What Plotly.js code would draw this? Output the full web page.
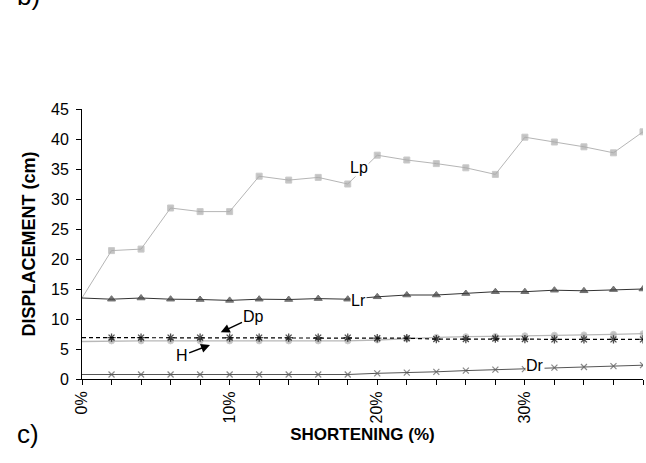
<!DOCTYPE html>
<html>
<head>
<meta charset="utf-8">
<script src="https://cdn.plot.ly/plotly-3.0.1.min.js"></script>
<style>html,body{margin:0;padding:0;background:#fff;}#chart{width:646px;height:463px;}</style>
</head>
<body>
<div id="chart"></div>
<script>
// Shortening (%) categories
const shortening = [0, 2, 4, 6, 8, 10, 12, 14, 16, 18, 20, 22, 24, 26, 28, 30, 32, 34, 36, 38];
// Tick labels shown on the x axis
const tickLabels = ['0%', '', '', '', '', '10%', '', '', '', '', '20%', '', '', '', '', '30%', '', '', '', '38%'];
// Displacement series (cm)
const Lp = [13.5, 21.4, 21.65, 28.5, 27.9, 27.9, 33.8, 33.15, 33.6, 32.5, 37.3, 36.5, 35.9, 35.2, 34.1, 40.3, 39.5, 38.7, 37.7, 41.2];
const Lr = [13.5, 13.3, 13.5, 13.3, 13.25, 13.1, 13.3, 13.25, 13.4, 13.3, 13.7, 14.0, 14.0, 14.25, 14.55, 14.55, 14.8, 14.7, 14.9, 15.0];
const Dp = [6.9, 6.9, 6.9, 6.9, 6.9, 6.9, 6.9, 6.9, 6.9, 6.9, 6.8, 6.8, 6.65, 6.65, 6.75, 6.65, 6.6, 6.6, 6.6, 6.6];
const H  = [6.25, 6.35, 6.35, 6.35, 6.35, 6.35, 6.35, 6.35, 6.35, 6.35, 6.5, 6.75, 6.95, 7.05, 7.1, 7.2, 7.3, 7.35, 7.45, 7.55];
const Dr = [0.75, 0.75, 0.75, 0.75, 0.75, 0.75, 0.75, 0.75, 0.75, 0.75, 0.95, 1.05, 1.2, 1.4, 1.55, 1.65, 1.9, 2.0, 2.15, 2.3];

const FONT = 'Liberation Sans, Arial, sans-serif';
const sizes = (s) => shortening.map((v, i) => (i === 0 ? 0 : s));

const traces = [
  {x: shortening, y: Lp, name: 'Lp', mode: 'lines+markers',
   line: {color: '#b5b5b5', width: 1},
   marker: {symbol: 'square', size: sizes(6), color: '#aaaaaa'}},
  {x: shortening, y: Lr, name: 'Lr', mode: 'lines+markers',
   line: {color: '#333333', width: 1},
   marker: {symbol: 'triangle-up', size: sizes(7), color: '#404040'}},
  {x: shortening, y: H, name: 'H', mode: 'lines+markers',
   line: {color: '#b8b8b8', width: 1.3},
   marker: {symbol: 'circle', size: sizes(6), color: '#aaaaaa'}},
  {x: shortening, y: Dp, name: 'Dp', mode: 'lines+markers',
   line: {color: '#000000', width: 1.2, dash: '4px,3px'},
   marker: {symbol: 'asterisk-open', size: sizes(7), color: '#000000', line: {color: '#000000', width: 1.3}}},
  {x: shortening, y: Dr, name: 'Dr', mode: 'lines+markers',
   line: {color: '#555555', width: 1},
   marker: {symbol: 'x-thin-open', size: sizes(6), color: '#555555', line: {color: '#555555', width: 1.2}}}
];

const annFont = {family: FONT, size: 16, color: '#000'};
const layout = {
  width: 646, height: 463,
  margin: {l: 82, r: 3, t: 109, b: 84},
  paper_bgcolor: '#fff', plot_bgcolor: '#fff',
  showlegend: false,
  font: {family: FONT, color: '#000'},
  xaxis: {
    range: [0, 38], showgrid: false, zeroline: false,
    showline: true, linecolor: '#000', linewidth: 1,
    ticks: 'outside', ticklen: 5, tickcolor: '#000',
    tickmode: 'array', tickvals: shortening, ticktext: tickLabels,
    tickangle: -90, tickfont: {family: FONT, size: 16, color: '#000'},
    title: {text: 'SHORTENING (%)', font: {family: FONT, size: 17, color: '#000', weight: 'bold'}, standoff: 5}
  },
  yaxis: {
    range: [0, 45], dtick: 5, showgrid: false, zeroline: false,
    showline: true, linecolor: '#000', linewidth: 1,
    ticks: 'outside', ticklen: 5, tickcolor: '#000', ticklabelstandoff: 4,
    tickfont: {family: FONT, size: 16, color: '#000'},
    title: {text: 'DISPLACEMENT (cm)', font: {family: FONT, size: 18, color: '#000', weight: 'bold'}, standoff: 10}
  },
  annotations: [
    {x: 18.76, y: 35.33, xref: 'x', yref: 'y', text: 'Lp', showarrow: false, font: annFont, bgcolor: '#fff', borderpad: 0},
    {x: 18.76, y: 13.08, xref: 'x', yref: 'y', text: 'Lr', showarrow: false, font: annFont, bgcolor: '#fff', borderpad: 0},
    {x: 30.68, y: 2.33, xref: 'x', yref: 'y', text: 'Dr', showarrow: false, font: annFont, bgcolor: '#fff', borderpad: 0},
    {x: 9.4, y: 7.78, xref: 'x', yref: 'y', ax: 11.65, ay: 10.38, axref: 'x', ayref: 'y',
     text: 'Dp', showarrow: true, arrowhead: 2, arrowsize: 1.2, arrowwidth: 1.5, arrowcolor: '#000', font: annFont},
    {x: 8.67, y: 5.67, xref: 'x', yref: 'y', ax: 6.75, ay: 3.87, axref: 'x', ayref: 'y',
     text: 'H', showarrow: true, arrowhead: 2, arrowsize: 1.2, arrowwidth: 1.5, arrowcolor: '#000', font: annFont},
    {x: -0.1194, y: (379 + 3.5) / 270, xref: 'paper', yref: 'paper', xanchor: 'left', yanchor: 'middle',
     text: 'b)', showarrow: false, font: {family: FONT, size: 26, color: '#000'}},
    {x: -0.1194, y: (379 - 434) / 270, xref: 'paper', yref: 'paper', xanchor: 'left', yanchor: 'middle',
     text: 'c)', showarrow: false, font: {family: FONT, size: 26, color: '#000'}}
  ]
};

Plotly.newPlot('chart', traces, layout, {displayModeBar: false, staticPlot: true});
</script>
</body>
</html>
